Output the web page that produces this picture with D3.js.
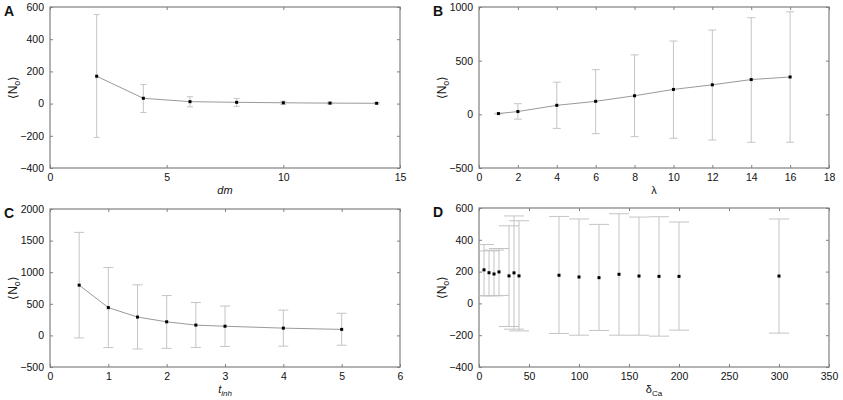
<!DOCTYPE html>
<html>
<head>
<meta charset="utf-8">
<script src="https://cdn.jsdelivr.net/npm/d3@7"></script>
<style>
  body { margin: 0; background: #fff; }
  text { font-family: "Liberation Sans", Arial, sans-serif; fill: #111; }
</style>
</head>
<body>
<div id="chart-area"></div>
<script>
// Panel A - dm
var dmX     = [2, 4, 6, 8, 10, 12, 14];
var dmMean  = [170, 33, 12, 8, 5, 3, 2];
var dmUpper = [553, 118, 43, 32, 15, 8, 6];
var dmLower = [-210, -55, -20, -17, -6, -2, -2];

// Panel B - lambda
var lamX     = [1, 2, 4, 6, 8, 10, 12, 14, 16];
var lamMean  = [7, 26, 84, 121, 173, 232, 275, 324, 348];
var lamUpper = [10, 99, 300, 416, 554, 683, 785, 900, 955];
var lamLower = [4, -45, -131, -180, -208, -223, -239, -260, -260];

// Panel C - t_inh
var tX     = [0.5, 1, 1.5, 2, 2.5, 3, 4, 5];
var tMean  = [795, 440, 290, 215, 163, 145, 115, 95];
var tUpper = [1630, 1075, 800, 630, 520, 465, 400, 350];
var tLower = [-40, -193, -215, -205, -190, -175, -170, -155];

// Panel D - delta_Ca
var caX     = [5, 10, 15, 20, 30, 35, 40, 80, 100, 120, 140, 160, 180, 200, 300];
var caMean  = [211, 193, 185, 198, 173, 192, 173, 177, 166, 162, 183, 172, 170, 170, 172];
var caUpper = [370, 330, 335, 345, 488, 550, 520, 547, 531, 497, 564, 543, 545, 512, 531];
var caLower = [48, 48, 48, 50, -145, -162, -173, -189, -200, -170, -200, -200, -206, -168, -187];

// tick values
var ticksA = { x: [0, 5, 10, 15], y: [-400, -200, 0, 200, 400, 600] };
var ticksB = { x: [0, 2, 4, 6, 8, 10, 12, 14, 16, 18], y: [-500, 0, 500, 1000] };
var ticksC = { x: [0, 1, 2, 3, 4, 5, 6], y: [-500, 0, 500, 1000, 1500, 2000] };
var ticksD = { x: [0, 50, 100, 150, 200, 250, 300, 350], y: [-400, -200, 0, 200, 400, 600] };

var frameColor = '#808080';
var lineColor = '#9a9a9a';
var errColor = '#c4c4c4';

var svg = d3.select('#chart-area')
  .append('svg')
    .attr('width', 843)
    .attr('height', 400);

var panels = [
  { id: 'A', left: 50, right: 400, top: 7, bottom: 168, xDom: [0, 15], yDom: [-400, 600],
    ticks: ticksA, x: dmX, m: dmMean, hi: dmUpper, lo: dmLower, cap: 3, line: true, xlabel: 'dm' },
  { id: 'B', left: 479, right: 829, top: 7, bottom: 168, xDom: [0, 18], yDom: [-500, 1000],
    ticks: ticksB, x: lamX, m: lamMean, hi: lamUpper, lo: lamLower, cap: 4, line: true, xlabel: 'lambda' },
  { id: 'C', left: 50, right: 400, top: 209, bottom: 367, xDom: [0, 6], yDom: [-500, 2000],
    ticks: ticksC, x: tX, m: tMean, hi: tUpper, lo: tLower, cap: 5, line: true, xlabel: 'tinh' },
  { id: 'D', left: 479, right: 829, top: 208, bottom: 367, xDom: [0, 350], yDom: [-400, 600],
    ticks: ticksD, x: caX, m: caMean, hi: caUpper, lo: caLower, cap: 10, line: false, xlabel: 'dca' }
];

var fmt = function(d) { return d < 0 ? '\u2212' + Math.abs(d) : String(d); };

panels.forEach(function(p) {
  var w = p.right - p.left;
  var h = p.bottom - p.top;

  var g = svg.append('g')
    .attr('transform', 'translate(' + p.left + ', ' + p.top + ')');

  var x = d3.scaleLinear().domain(p.xDom).range([0, w]);
  var y = d3.scaleLinear().domain(p.yDom).range([h, 0]);

  g.append('clipPath')
    .attr('id', 'clip' + p.id)
    .append('rect')
      .attr('width', w)
      .attr('height', h);

  // axes, inward ticks on all four sides
  function styleAxis(sel) {
    sel.select('.domain').remove();
    sel.selectAll('line').attr('stroke', frameColor);
    sel.selectAll('text').attr('font-size', '10.5px').attr('fill', '#111');
  }
  g.append('g')
    .attr('transform', 'translate(0, ' + h + ')')
    .call(d3.axisBottom(x).tickValues(p.ticks.x).tickSizeInner(-3).tickSizeOuter(0).tickPadding(6).tickFormat(fmt))
    .call(styleAxis);
  g.append('g')
    .call(d3.axisTop(x).tickValues(p.ticks.x).tickSizeInner(-3).tickSizeOuter(0).tickFormat(''))
    .call(styleAxis);
  g.append('g')
    .call(d3.axisLeft(y).tickValues(p.ticks.y).tickSizeInner(-3).tickSizeOuter(0).tickPadding(6).tickFormat(fmt))
    .call(styleAxis);
  g.append('g')
    .attr('transform', 'translate(' + w + ', 0)')
    .call(d3.axisRight(y).tickValues(p.ticks.y).tickSizeInner(-3).tickSizeOuter(0).tickFormat(''))
    .call(styleAxis);

  g.append('rect')
    .attr('width', w)
    .attr('height', h)
    .attr('fill', 'none')
    .attr('stroke', frameColor)
    .attr('stroke-width', 1.2);

  var data = p.x.map(function(d, i) {
    return { x: d, m: p.m[i], hi: p.hi[i], lo: p.lo[i] };
  });

  var plot = g.append('g').attr('clip-path', 'url(#clip' + p.id + ')');

  // error bars
  var eb = plot.selectAll('.eb')
    .data(data)
    .enter()
    .append('g')
      .attr('class', 'eb')
      .attr('stroke', errColor)
      .attr('stroke-width', 1);
  eb.append('line')
    .attr('x1', function(d) { return x(d.x); })
    .attr('x2', function(d) { return x(d.x); })
    .attr('y1', function(d) { return y(d.hi); })
    .attr('y2', function(d) { return y(d.lo); });
  eb.append('line')
    .attr('x1', function(d) { return x(d.x) - p.cap; })
    .attr('x2', function(d) { return x(d.x) + p.cap; })
    .attr('y1', function(d) { return y(d.hi); })
    .attr('y2', function(d) { return y(d.hi); });
  eb.append('line')
    .attr('x1', function(d) { return x(d.x) - p.cap; })
    .attr('x2', function(d) { return x(d.x) + p.cap; })
    .attr('y1', function(d) { return y(d.lo); })
    .attr('y2', function(d) { return y(d.lo); });

  if (p.line) {
    plot.append('path')
      .datum(data)
      .attr('fill', 'none')
      .attr('stroke', lineColor)
      .attr('stroke-width', 1)
      .attr('d', d3.line()
        .x(function(d) { return x(d.x); })
        .y(function(d) { return y(d.m); }));
  }

  plot.selectAll('.pt')
    .data(data)
    .enter()
    .append('rect')
      .attr('class', 'pt')
      .attr('x', function(d) { return x(d.x) - 1.5; })
      .attr('y', function(d) { return y(d.m) - 1.5; })
      .attr('width', 3)
      .attr('height', 3)
      .attr('fill', '#000');

  // panel letter
  svg.append('text')
    .attr('x', p.left - 46)
    .attr('y', p.top + 9)
    .attr('font-size', '14px')
    .attr('font-weight', 'bold')
    .text(p.id);

  // y label <N_o>
  var yl = svg.append('text')
    .attr('transform', 'translate(' + (p.left - 33) + ', ' + (p.top + h / 2) + ') rotate(-90)')
    .attr('text-anchor', 'middle')
    .attr('font-size', '12px');
  yl.append('tspan').text('\u27E8N');
  yl.append('tspan').attr('font-size', '9px').attr('dy', 3).text('o');
  yl.append('tspan').attr('dy', -3).text('\u27E9');

  // x label
  var xl = svg.append('text')
    .attr('x', p.left + w / 2)
    .attr('y', p.bottom + 26)
    .attr('text-anchor', 'middle')
    .attr('font-size', '11px');
  if (p.xlabel === 'dm') {
    xl.attr('font-style', 'italic').text('dm');
  } else if (p.xlabel === 'lambda') {
    xl.text('\u03BB');
  } else if (p.xlabel === 'tinh') {
    xl.attr('font-style', 'italic');
    xl.append('tspan').text('t');
    xl.append('tspan').attr('font-size', '8px').attr('dy', 3).text('inh');
  } else {
    xl.append('tspan').text('\u03B4');
    xl.append('tspan').attr('font-size', '8px').attr('dy', 3).text('Ca');
  }
});
</script>
</body>
</html>
